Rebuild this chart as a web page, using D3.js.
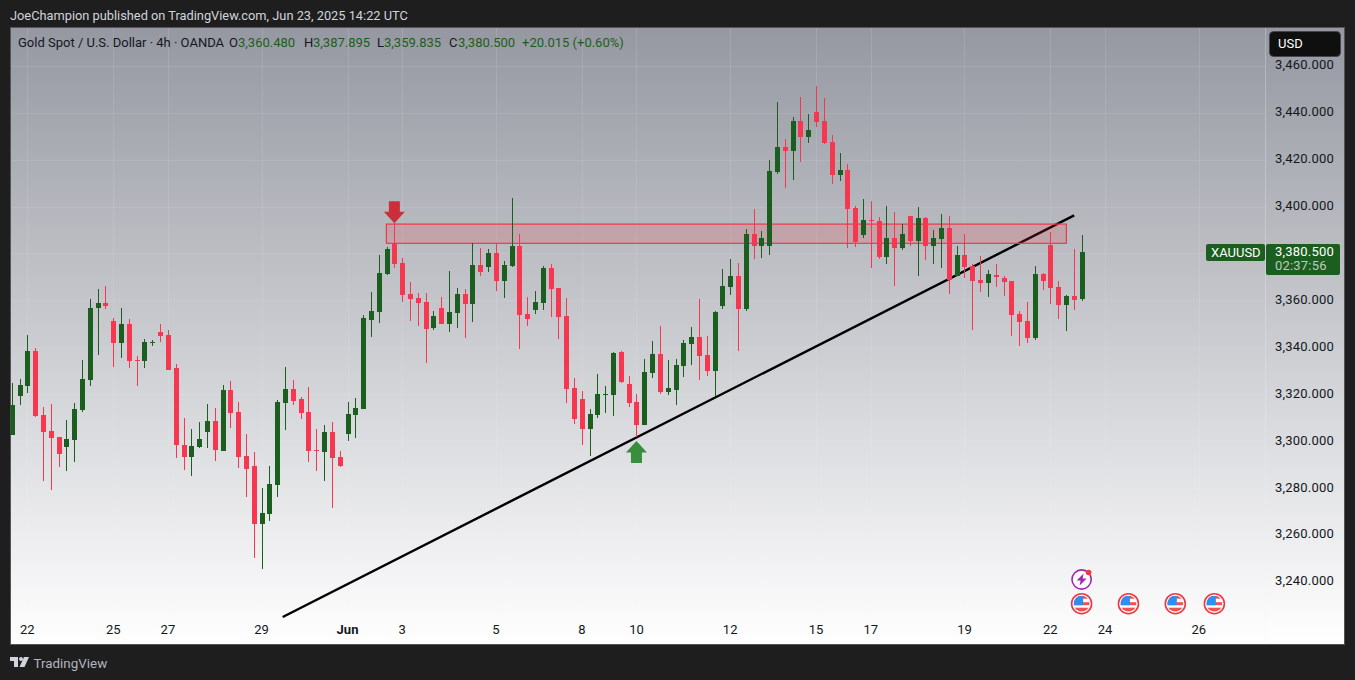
<!DOCTYPE html>
<head>
  <meta charset="utf-8">
  <style>
    html, body { margin: 0; padding: 0; background: #1e1e1e; overflow: hidden; }
    svg { display: block; }
    text { font-family: Roboto, sans-serif; }
    .axis path, .axis line { display: none; }
    .axis text { fill: #131722; font-size: 13px; }
    .price text { letter-spacing: 0.2px; }
  </style>
  <script src="https://cdn.jsdelivr.net/npm/d3@7"></script>
</head>
<body>
  <script>

    // 4h candles
    const opens = [
      3302.6,3319.1,3323.4,3338.4,3311.1,3304.3,3301.7,3297.5,3300.4,3313.2,
      3326.0,3356.7,3358.8,3351.2,3341.8,3349.9,3334.5,3334.1,3341.8,3346.5,
      3345.2,3331.1,3298.3,3293.2,3297.5,3303.8,3308.5,3295.8,3321.7,3312.3,
      3293.6,3289.3,3264.6,3268.9,3281.2,3316.2,3322.1,3317.9,3312.3,3296.2,
      3295.3,3303.8,3293.2,3303.0,3311.1,3313.6,3351.6,3355.0,3371.2,3384.4,
      3375.9,3362.7,3361.0,3359.3,3348.2,3356.7,3349.9,3354.6,3362.7,3358.4,
      3375.1,3374.2,3380.2,3368.2,3374.6,3383.1,3354.2,3355.9,3358.8,3373.8,
      3365.3,3353.3,3322.6,3317.9,3305.1,3311.1,3319.6,3319.6,3338.0,3324.3,
      3316.6,3306.8,3329.0,3337.1,3320.9,3321.7,3332.0,3341.4,3344.4,3336.7,
      3329.9,3357.6,3365.7,3370.4,3356.3,3388.3,3383.1,3383.1,3414.7,3425.4,
      3423.7,3436.5,3429.6,3440.3,3436.5,3427.5,3413.4,3415.6,3399.4,3387.8,
      3394.2,3393.8,3378.5,3386.6,3382.3,3395.9,3385.3,3395.1,3383.1,3386.1,
      3390.8,3370.4,3379.3,3374.6,3368.7,3367.4,3370.8,3369.5,3368.2,3354.2,
      3351.2,3343.9,3371.2,3383.6,3365.7,3357.9,3361.8,3360.48
    ];
    const highs = [
      3324.7,3326.5,3345.2,3339.7,3314.5,3315.8,3301.7,3308.9,3316.2,3334.5,
      3360.5,3364.8,3366.1,3352.5,3356.7,3352.0,3336.2,3343.5,3343.1,3349.9,
      3347.3,3332.8,3309.8,3305.1,3308.1,3315.8,3314.1,3323.9,3325.6,3316.6,
      3303.0,3295.3,3280.0,3289.3,3317.5,3331.6,3326.0,3318.8,3323.0,3305.1,
      3306.8,3308.1,3295.8,3316.6,3318.4,3353.7,3363.6,3379.3,3382.7,3392.9,
      3378.0,3367.8,3363.1,3363.1,3355.4,3361.4,3372.5,3365.3,3364.8,3384.4,
      3382.3,3381.9,3384.4,3376.8,3403.6,3388.3,3361.4,3364.0,3374.6,3375.5,
      3365.3,3360.9,3326.9,3321.3,3313.6,3328.6,3323.4,3338.0,3338.4,3327.7,
      3320.0,3335.0,3342.6,3349.0,3334.5,3335.0,3343.1,3348.6,3360.5,3344.8,
      3355.5,3373.3,3377.6,3375.9,3390.4,3398.9,3389.6,3419.8,3444.6,3428.8,
      3438.2,3446.7,3439.4,3451.4,3446.3,3430.5,3422.8,3418.1,3400.2,3403.2,
      3402.3,3395.5,3400.2,3397.7,3392.5,3395.9,3399.8,3395.5,3390.0,3396.8,
      3395.9,3383.1,3388.3,3375.5,3378.9,3372.9,3375.5,3370.4,3368.2,3355.4,
      3359.3,3374.6,3371.6,3389.1,3368.2,3362.3,3381.9,3387.895
    ];
    const lows = [
      3302.6,3315.4,3320.4,3310.2,3283.0,3279.1,3288.9,3287.2,3291.0,3312.3,
      3323.4,3336.7,3356.3,3331.6,3335.4,3331.1,3323.4,3331.1,3340.5,3342.2,
      3330.3,3292.8,3287.6,3285.1,3297.0,3297.0,3291.5,3295.8,3305.5,3288.5,
      3276.1,3250.1,3245.4,3265.9,3276.1,3304.7,3315.4,3309.4,3291.0,3287.2,
      3283.0,3271.4,3288.9,3300.0,3301.3,3313.6,3344.4,3350.3,3370.8,3373.8,
      3359.3,3351.2,3349.0,3333.3,3347.3,3349.9,3346.5,3348.2,3343.9,3350.7,
      3370.4,3372.1,3364.0,3361.0,3374.2,3339.2,3349.0,3354.2,3355.9,3352.9,
      3343.5,3316.2,3307.2,3298.3,3293.6,3309.8,3311.9,3310.6,3324.7,3314.5,
      3301.7,3306.8,3326.9,3320.0,3319.6,3315.4,3327.3,3332.4,3326.0,3327.7,
      3319.1,3356.3,3362.3,3338.4,3355.4,3377.6,3378.0,3379.3,3413.9,3407.9,
      3411.3,3419.0,3427.1,3433.9,3426.7,3409.6,3410.9,3382.3,3382.7,3386.6,
      3373.8,3377.6,3375.5,3366.1,3381.5,3383.1,3370.4,3377.2,3375.5,3373.8,
      3362.7,3370.4,3369.5,3347.3,3363.6,3361.4,3365.7,3361.8,3344.8,3340.5,
      3341.8,3343.1,3364.4,3358.4,3352.0,3346.9,3355.9,3359.835
    ];
    const closes = [
      3315.4,3323.9,3338.4,3310.6,3303.8,3301.3,3294.5,3300.8,3313.6,3326.5,
      3356.7,3358.8,3357.6,3341.8,3349.9,3334.1,3334.1,3342.2,3342.2,3344.8,
      3330.3,3298.3,3293.2,3297.9,3300.8,3308.5,3296.2,3321.7,3311.9,3293.2,
      3288.0,3264.6,3269.3,3281.7,3316.6,3322.1,3317.1,3311.9,3295.8,3295.8,
      3303.8,3292.8,3289.3,3311.5,3314.1,3352.4,3355.4,3371.6,3381.9,3375.5,
      3362.3,3360.5,3358.8,3347.8,3353.3,3349.9,3355.0,3362.7,3358.4,3375.1,
      3372.1,3380.2,3368.2,3375.1,3383.1,3353.7,3352.0,3359.3,3373.8,3364.8,
      3352.9,3322.1,3309.4,3305.1,3311.5,3320.0,3320.0,3337.5,3325.2,3316.2,
      3306.8,3329.4,3337.1,3320.9,3322.6,3332.4,3341.8,3344.4,3336.2,3329.9,
      3355.0,3366.1,3370.4,3356.3,3388.3,3383.1,3386.6,3415.1,3425.4,3423.7,
      3436.5,3429.6,3432.6,3436.1,3427.1,3413.4,3415.6,3398.9,3384.9,3394.2,
      3393.8,3378.5,3386.6,3382.3,3388.3,3385.3,3395.1,3383.1,3386.6,3390.8,
      3368.7,3379.3,3374.2,3368.2,3367.4,3371.2,3369.9,3367.8,3353.7,3350.7,
      3343.9,3371.2,3368.2,3365.3,3357.9,3361.8,3360.1,3380.5
    ];

    // axis ticks
    const priceTicks = [3240,3260,3280,3300,3320,3340,3360,3380,3400,3420,3440,3460];
    const timeTickBars = [2,13,20,32,43,50,62,73,80,92,103,110,122,133,140,152];
    const timeTickLabels = ['22','25','27','29','Jun','3','5','8','10','12','15','17','19','22','24','26'];

    // drawings, in bar index and price
    const zoneBars = [47.98, 135.05];
    const zonePrices = [3392.5, 3384.3];
    const trendBars = [34.7, 136.05];
    const trendPrices = [3224.96, 3396.2];
    const eventFlagBars = [137, 143, 149, 154];

    const legendParts = [
      ['Gold Spot / U.S. Dollar · 4h · OANDA', 18, '#131722'],
      ['O', 229, '#131722'], ['3,360.480', 238, '#1b5e20'],
      ['H', 304, '#131722'], ['3,387.895', 313, '#1b5e20'],
      ['L', 377, '#131722'], ['3,359.835', 384, '#1b5e20'],
      ['C', 449, '#131722'], ['3,380.500', 458, '#1b5e20'],
      ['+20.015 (+0.60%)', 522, '#1b5e20']
    ];

    const w = 1355, h = 680;
    const red = '#f7374f', green = '#1b5e20';
    const pane = { x: 10, y: 27, r: 1265, b: 618 };

    const x = d3.scaleLinear().domain([0, 137]).range([11.7, 1081.6]);
    const y = d3.scaleLinear().domain([3240, 3460]).range([581.7, 65.8]);

    const svg = d3.select('body').append('svg')
      .attr('width', w)
      .attr('height', h);

    const defs = svg.append('defs');
    const grad = defs.append('linearGradient')
      .attr('id', 'bg').attr('x1', 0).attr('y1', 0).attr('x2', 0).attr('y2', 1);
    grad.append('stop').attr('offset', '0%').attr('stop-color', '#9598a1');
    grad.append('stop').attr('offset', '100%').attr('stop-color', '#ffffff');

    defs.append('clipPath').attr('id', 'paneClip').append('rect')
      .attr('x', pane.x + 0.5).attr('y', pane.y)
      .attr('width', pane.r - pane.x).attr('height', pane.b - pane.y);
    defs.append('clipPath').attr('id', 'flagClip').append('circle').attr('r', 8);

    // panel
    svg.append('rect')
      .attr('x', 10.5).attr('y', 27.5).attr('width', 1334).attr('height', 617)
      .attr('fill', 'url(#bg)').attr('stroke', '#555').attr('stroke-width', 1);

    // grid
    const grid = svg.append('g').attr('stroke', 'rgba(240,243,250,0.12)').attr('stroke-width', 1);
    grid.selectAll('.hg').data(priceTicks.concat([3220])).enter().append('line')
      .attr('x1', 11).attr('x2', pane.r)
      .attr('y1', (d) => Math.round(y(d)) + 0.5).attr('y2', (d) => Math.round(y(d)) + 0.5);
    grid.selectAll('.vg').data(timeTickBars).enter().append('line')
      .attr('y1', 28).attr('y2', pane.b)
      .attr('x1', (d) => Math.round(x(d)) + 0.5).attr('x2', (d) => Math.round(x(d)) + 0.5);
    svg.append('line')
      .attr('x1', pane.r + 0.5).attr('x2', pane.r + 0.5).attr('y1', 28).attr('y2', 644)
      .attr('stroke', 'rgba(240,243,250,0.3)');

    // trend line, the zone tints it where they overlap
    svg.append('line')
      .attr('clip-path', 'url(#paneClip)')
      .attr('x1', x(trendBars[0])).attr('y1', y(trendPrices[0]))
      .attr('x2', x(trendBars[1])).attr('y2', y(trendPrices[1]))
      .attr('stroke', '#000').attr('stroke-width', 2.4);

    // supply zone
    svg.append('rect')
      .attr('x', x(zoneBars[0])).attr('y', y(zonePrices[0]))
      .attr('width', x(zoneBars[1]) - x(zoneBars[0]))
      .attr('height', y(zonePrices[1]) - y(zonePrices[0]))
      .attr('fill', 'rgba(242,54,69,0.18)')
      .attr('stroke', '#f23645').attr('stroke-width', 1.2);

    // candles
    const cx = (i) => Math.round(x(i)) + 0.5;
    const colour = (i) => closes[i] >= opens[i] ? green : red;
    const candles = svg.append('g')
      .attr('clip-path', 'url(#paneClip)')
      .attr('shape-rendering', 'crispEdges');

    candles.selectAll('.wick').data(opens).enter().append('rect')
      .attr('x', (d, i) => cx(i) - 0.5)
      .attr('width', 1)
      .attr('y', (d, i) => y(highs[i]))
      .attr('height', (d, i) => y(lows[i]) - y(highs[i]))
      .attr('fill', (d, i) => colour(i));

    candles.selectAll('.body').data(opens).enter().append('rect')
      .attr('x', (d, i) => cx(i) - 2.5)
      .attr('width', 5)
      .attr('y', (d, i) => y(Math.max(opens[i], closes[i])))
      .attr('height', (d, i) => Math.max(1, Math.abs(y(opens[i]) - y(closes[i]))))
      .attr('fill', (d, i) => colour(i));

    // arrows
    const arrow = (bar, tipPrice, dir, col) => {
      const tx = x(bar), ty = y(tipPrice);
      const p = d3.path();
      p.moveTo(tx, ty);
      p.lineTo(tx + 10.5, ty + dir * 11.5);
      p.lineTo(tx + 5.5, ty + dir * 11.5);
      p.lineTo(tx + 5.5, ty + dir * 22);
      p.lineTo(tx - 5.5, ty + dir * 22);
      p.lineTo(tx - 5.5, ty + dir * 11.5);
      p.lineTo(tx - 10.5, ty + dir * 11.5);
      p.closePath();
      svg.append('path').attr('d', p.toString()).attr('fill', col);
    };
    arrow(49, 3392.9, -1, '#cc2f3c');
    arrow(80, 3300.0, 1, '#388e3c');

    // axes
    const yAxis = d3.axisRight(y)
      .tickValues(priceTicks)
      .tickSize(0)
      .tickPadding(0)
      .tickFormat(d3.format(',.3f'));
    svg.append('g').attr('class', 'axis price')
      .attr('transform', 'translate(1275,-1)')
      .call(yAxis);

    const xAxis = d3.axisBottom(x)
      .tickValues(timeTickBars)
      .tickSize(0)
      .tickPadding(0)
      .tickFormat((d, i) => timeTickLabels[i]);
    svg.append('g').attr('class', 'axis')
      .attr('transform', 'translate(-0.5,625)')
      .call(xAxis)
      .selectAll('text')
      .attr('font-weight', (d, i) => timeTickLabels[i] === 'Jun' ? 700 : 400);

    // header
    svg.append('text')
      .attr('x', 10).attr('y', 20)
      .attr('font-size', 12.8).attr('fill', '#d1d4dc')
      .text('JoeChampion published on TradingView.com, Jun 23, 2025 14:22 UTC');

    svg.selectAll('.legend').data(legendParts).enter().append('text')
      .attr('x', (d) => d[1]).attr('y', 47)
      .attr('font-size', 13)
      .attr('fill', (d) => d[2])
      .text((d) => d[0]);

    // currency button
    svg.append('rect')
      .attr('x', 1269.5).attr('y', 31.5).attr('width', 71).attr('height', 25).attr('rx', 4)
      .attr('fill', '#0f0f0f').attr('stroke', '#434651');
    svg.append('text')
      .attr('x', 1278).attr('y', 48).attr('font-size', 13).attr('fill', '#fff').text('USD');

    // last price label
    svg.append('rect').attr('x', 1206).attr('y', 244).attr('width', 59).attr('height', 17)
      .attr('rx', 2).attr('fill', green);
    svg.append('rect').attr('x', 1266).attr('y', 244).attr('width', 74).attr('height', 31)
      .attr('rx', 2).attr('fill', green);
    svg.append('text').attr('x', 1211).attr('y', 257).attr('font-size', 13).attr('fill', '#fff').text('XAUUSD');
    svg.append('text').attr('x', 1275).attr('y', 256).attr('font-size', 13).attr('fill', '#fff')
      .attr('letter-spacing', 0.2)
      .text(d3.format(',.3f')(closes[closes.length - 1]));
    svg.append('text').attr('x', 1275).attr('y', 270).attr('font-size', 13).attr('fill', '#fff')
      .attr('letter-spacing', 0.2)
      .attr('fill-opacity', 0.7).text('02:37:56');

    // event icons
    const flags = svg.append('g').attr('transform', 'translate(0,603.7)');
    eventFlagBars.forEach((b) => {
      const g = flags.append('g').attr('transform', `translate(${x(b)},0)`);
      g.append('circle').attr('r', 10).attr('fill', '#fff').attr('stroke', '#f23645').attr('stroke-width', 1.6);
      const c = g.append('g').attr('clip-path', 'url(#flagClip)');
      c.append('rect').attr('x', -8).attr('y', -8).attr('width', 16).attr('height', 16).attr('fill', '#fff');
      [-8, -1.5, 4].forEach((sy, k) => {
        c.append('rect').attr('x', -8).attr('y', sy).attr('width', 16).attr('height', k === 2 ? 4 : 3).attr('fill', '#f0524f');
      });
      c.append('rect').attr('x', -8).attr('y', -8).attr('width', 9.5).attr('height', 9.5).attr('fill', '#2e8ff0');
    });
    const flash = svg.append('g').attr('transform', `translate(${x(137)},579.5)`);
    flash.append('circle').attr('r', 9.6).attr('fill', '#fff').attr('stroke', '#9c27b0').attr('stroke-width', 1.6);
    flash.append('path').attr('d', 'M2,-6 L-5,1 L-1,1 L-2,6 L5,-1 L1,-1 Z').attr('fill', '#9c27b0');
    flash.append('circle').attr('cx', 7).attr('cy', -7).attr('r', 2.8).attr('fill', '#f23645');

    // footer logo
    const logo = svg.append('g').attr('transform', 'translate(10,657)').attr('fill', '#d1d4dc');
    logo.append('path').attr('d', 'M0,0 H8 V10 H4 V4 H0 Z');
    logo.append('circle').attr('cx', 11).attr('cy', 2).attr('r', 2);
    logo.append('path').attr('d', 'M14,0 H19 L14.5,10 H9.5 Z');
    svg.append('text').attr('x', 33.5).attr('y', 668)
      .attr('font-size', 13.4).attr('fill', '#b2b5be').text('TradingView');

  </script>
</body>
